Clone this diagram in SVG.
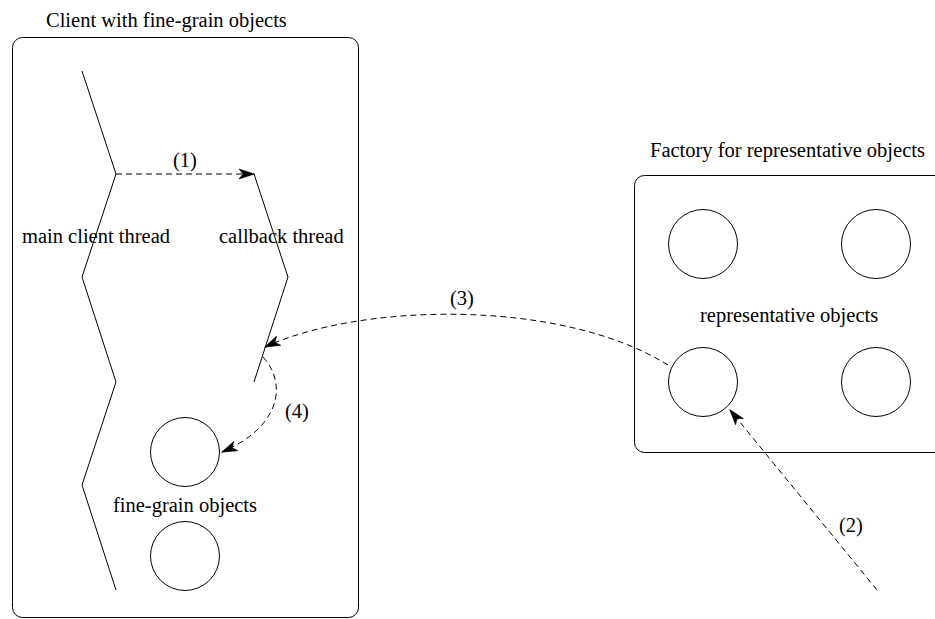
<svg xmlns="http://www.w3.org/2000/svg" width="935" height="619" viewBox="0 0 935 619">
  <style>
    text { font-family: "Liberation Serif", "Times New Roman", serif; font-size: 20.5px; fill: #000; }
    .box { fill: none; stroke: #000; stroke-width: 1; }
    .thread { fill: none; stroke: #000; stroke-width: 1; }
    .obj { fill: #fff; stroke: #000; stroke-width: 1; }
    .conn { fill: none; stroke: #000; stroke-width: 1; stroke-dasharray: 6 4; }
  </style>
  <defs>
    <marker id="arrow" viewBox="-17 -7 18 14" refX="0" refY="0" markerWidth="18" markerHeight="14" markerUnits="userSpaceOnUse" orient="auto">
      <path d="M0.5,0 L-15,-5 L-11,0 L-15,5 Z" fill="#000" stroke="#000" stroke-width="0.6" stroke-linejoin="miter"/>
    </marker>
  </defs>
  <rect width="935" height="619" fill="#fff"/>

  <!-- client process -->
  <g id="client">
    <rect class="box" x="12.5" y="37.5" width="346" height="580" rx="10" ry="10"/>
    <text x="46" y="27">Client with fine-grain objects</text>
  </g>

  <g id="main-thread">
    <polyline class="thread" points="82,71 116,174 82,277 116,382 82,485 116,590"/>
    <text x="22" y="243">main client thread</text>
  </g>

  <g id="callback-thread">
    <polyline class="thread" points="254,174 288,277 254,382"/>
    <text x="219" y="243">callback thread</text>
  </g>

  <g id="fine-grain-objects">
    <circle class="obj" cx="185" cy="452" r="34.5"/>
    <circle class="obj" cx="185" cy="556" r="34.5"/>
    <text x="113" y="512">fine-grain objects</text>
  </g>

  <!-- factory process -->
  <g id="factory">
    <rect class="box" x="634.5" y="175.5" width="330" height="277" rx="10" ry="10"/>
    <text x="650" y="157">Factory for representative objects</text>
  </g>

  <g id="representative-objects">
    <circle class="obj" cx="703" cy="244" r="34.5"/>
    <circle class="obj" cx="876" cy="244" r="34.5"/>
    <circle class="obj" cx="703" cy="382" r="34.5"/>
    <circle class="obj" cx="876" cy="382" r="34.5"/>
    <text x="700" y="322">representative objects</text>
  </g>

  <!-- interactions -->
  <g id="connectors">
    <path class="conn" d="M116,174 L254,174" marker-end="url(#arrow)"/>
    <text x="173" y="167">(1)</text>

    <path class="conn" d="M877,590 L730,410" marker-end="url(#arrow)"/>
    <text x="839" y="532">(2)</text>

    <path class="conn" d="M668,365 C560,298 360,303 265,347" marker-end="url(#arrow)"/>
    <text x="450" y="305">(3)</text>

    <path class="conn" d="M263,357 C285,380 285,425 222,452" marker-end="url(#arrow)"/>
    <text x="285" y="418">(4)</text>
  </g>
</svg>
